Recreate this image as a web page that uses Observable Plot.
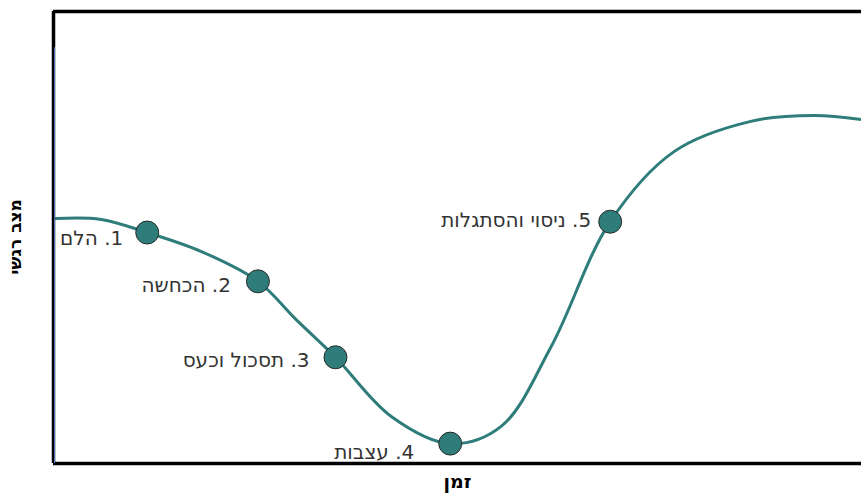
<!DOCTYPE html>
<html>
<head>
<meta charset="utf-8">
<script src="https://cdn.jsdelivr.net/npm/d3@7"></script>
<script src="https://cdn.jsdelivr.net/npm/@observablehq/plot@0.6"></script>
<style>
  html, body { margin: 0; padding: 0; background: #fff; }
  #chart svg { display: block; }
</style>
</head>
<body>
<div id="chart"></div>
<script>
// Curve of emotional state over time (time 0-100, state 0-100)
const curveTime  = [0.3, 5.9, 11.6, 18.3, 25.3, 30.0, 34.9, 41.8, 49.1, 55.4, 61.6, 68.9, 76.8, 86.3, 94.1, 100];
const curveState = [54.2, 54.0, 51.1, 46.9, 40.3, 31.9, 23.5, 10.4, 4.4, 8.2, 25.9, 53.5, 69.0, 75.7, 77.0, 76.1];

// Stages (points on the curve)
const stageTime  = [11.6, 25.3, 34.9, 49.1, 68.9];
const stageState = [51.1, 40.3, 23.5, 4.4, 53.5];
const stageLabels = ["1. הלם", "2. הכחשה", "3. תסכול וכעס", "4. עצבות", "5. ניסוי והסתגלות"];

const xLabel = "זמן";
const yLabel = "מצב רגשי";

const curve = curveTime.map((t, i) => ({t, s: curveState[i]}));
const stages = stageTime.map((t, i) => ({t, s: stageState[i], label: "\u200F" + stageLabels[i], i}));

// label nudges (layout only)
const nudgeX = [-24, -27, -26, -36, -19];
const nudgeY = [6, 4, 3, 9, -1];

const teal = "#2e7d7a";
const font = "'DejaVu Sans', 'Liberation Sans', sans-serif";

const labelMarks = stages.map(d => Plot.text([d], {
  x: "t", y: "s", text: "label",
  textAnchor: "end", dx: nudgeX[d.i], dy: nudgeY[d.i],
  fontSize: 20, fill: "#333"
}));

const chart = Plot.plot({
  width: 861,
  height: 497,
  marginLeft: 53,
  marginRight: 0,
  marginTop: 11,
  marginBottom: 34,
  style: {fontFamily: font, background: "#fff"},
  x: {domain: [0, 100], axis: null},
  y: {domain: [0, 100], axis: null},
  marks: [
    Plot.line(curve, {x: "t", y: "s", curve: "catmull-rom", stroke: teal, strokeWidth: 3}),
    Plot.ruleY([0], {stroke: "#000", strokeWidth: 3.5}),
    Plot.ruleY([100], {stroke: "#000", strokeWidth: 3.5}),
    Plot.ruleX([0], {stroke: "#000", strokeWidth: 3.5}),
    Plot.ruleX([0], {y1: 0, y2: 92, stroke: "#4a72b5", strokeWidth: 1, dx: 1}),
    Plot.dot(stages, {x: "t", y: "s", r: 11.5, fill: teal, stroke: "#2b2b2b", strokeWidth: 1}),
    ...labelMarks,
    Plot.text([xLabel], {frameAnchor: "bottom", dy: 24, fontSize: 19, fontWeight: "bold", fill: "#000"}),
    Plot.text([yLabel], {frameAnchor: "left", dx: -38, dy: 37, rotate: -90, fontSize: 17, fontWeight: "bold", fill: "#000"})
  ]
});

document.getElementById("chart").appendChild(chart);
</script>
</body>
</html>
